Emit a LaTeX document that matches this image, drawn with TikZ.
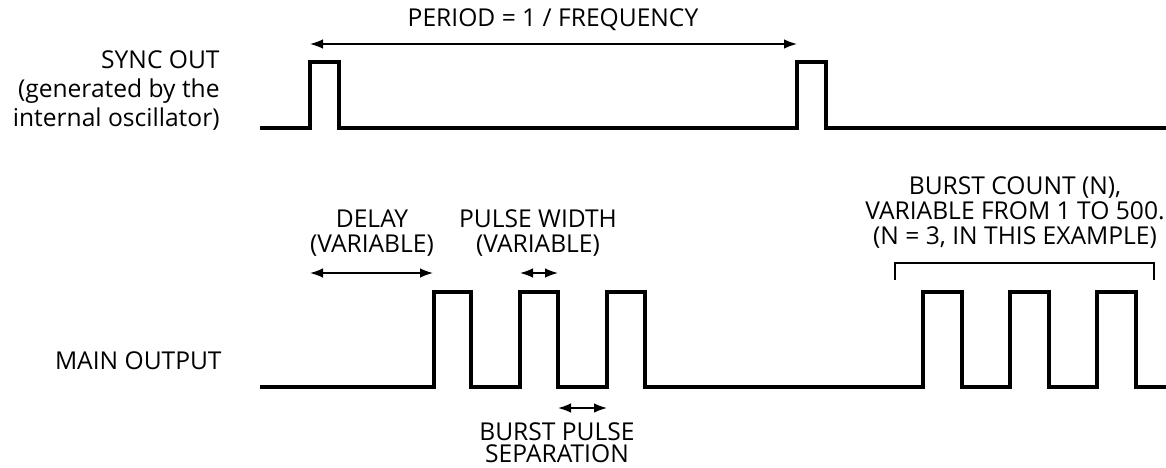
\documentclass[tikz,border=0pt]{standalone}
\usepackage{fontspec}
\setmainfont{Open Sans}
\usetikzlibrary{arrows.meta}

\begin{document}
\begin{tikzpicture}[x=0.5pt,y=0.5pt,yscale=-1,xscale=1,
  wave/.style={line width=1.9pt, line join=miter},
  dimarrow/.style={line width=0.8pt, {Latex[length=6.5pt,width=4.8pt]}-{Latex[length=6.5pt,width=4.8pt]}},
  lbl/.style={inner sep=0pt, align=center, font=\fontsize{12.3}{12.5}\selectfont}]
\useasboundingbox (0,0) rectangle (1166,467);

%Shape: Sync out waveform
\draw[wave] (260,128) -- (310,128) -- (310,62) -- (339,62) -- (339,128) -- (797,128) -- (797,62) -- (826,62) -- (826,128) -- (1168,128);
%Shape: Main output waveform
\draw[wave] (260,387) -- (434,387) -- (434,292) -- (471,292) -- (471,387)
  -- (520,387) -- (520,292) -- (558,292) -- (558,387)
  -- (607,387) -- (607,292) -- (645,292) -- (645,387)
  -- (923,387) -- (923,292) -- (962,292) -- (962,387)
  -- (1010,387) -- (1010,292) -- (1049,292) -- (1049,387)
  -- (1097,387) -- (1097,292) -- (1136,292) -- (1136,387) -- (1168,387);

%Straight Lines: dimension arrows
\coordinate (perL) at (310,44);
\coordinate (perR) at (797,44);
\draw[dimarrow] (perL) -- (perR);
\coordinate (dlyL) at (310,273);
\coordinate (dlyR) at (433,273);
\draw[dimarrow] (dlyL) -- (dlyR);
\coordinate (pwL) at (520,273);
\coordinate (pwR) at (558,273);
\draw[dimarrow] (pwL) -- (pwR);
\coordinate (sepL) at (558,408);
\coordinate (sepR) at (607,408);
\draw[dimarrow] (sepL) -- (sepR);

%Shape: burst bracket
\coordinate (brL) at (895,263);
\coordinate (brR) at (1154,263);
\coordinate (brLend) at (895,280);
\coordinate (brRend) at (1154,280);
\draw[line width=0.8pt] (brLend) -- (brL) -- (brR) -- (brRend);

% Text Node
\node[lbl] (period) at (553,20) {PERIOD = 1 / FREQUENCY};
% Text Node
\node[lbl, align=right, anchor=north east, font=\fontsize{12.3}{14.5}\selectfont] (sync) at (220,50) {SYNC OUT\\(generated by the\\internal oscillator)};
% Text Node
\node[lbl, anchor=east] (main) at (222,361) {MAIN OUTPUT};
% Text Node
\node[lbl] (delay) at (372,233) {DELAY\\(VARIABLE)};
% Text Node
\node[lbl] (width) at (538,233) {PULSE WIDTH\\(VARIABLE)};
% Text Node
\node[lbl, font=\fontsize{12.3}{11.2}\selectfont] (sep) at (557,443) {BURST PULSE\\SEPARATION};
% Text Node
\node[lbl] (count) at (1015,213) {BURST COUNT (N),\\VARIABLE FROM 1 TO 500.\\(N = 3, IN THIS EXAMPLE)};

\end{tikzpicture}
\end{document}
